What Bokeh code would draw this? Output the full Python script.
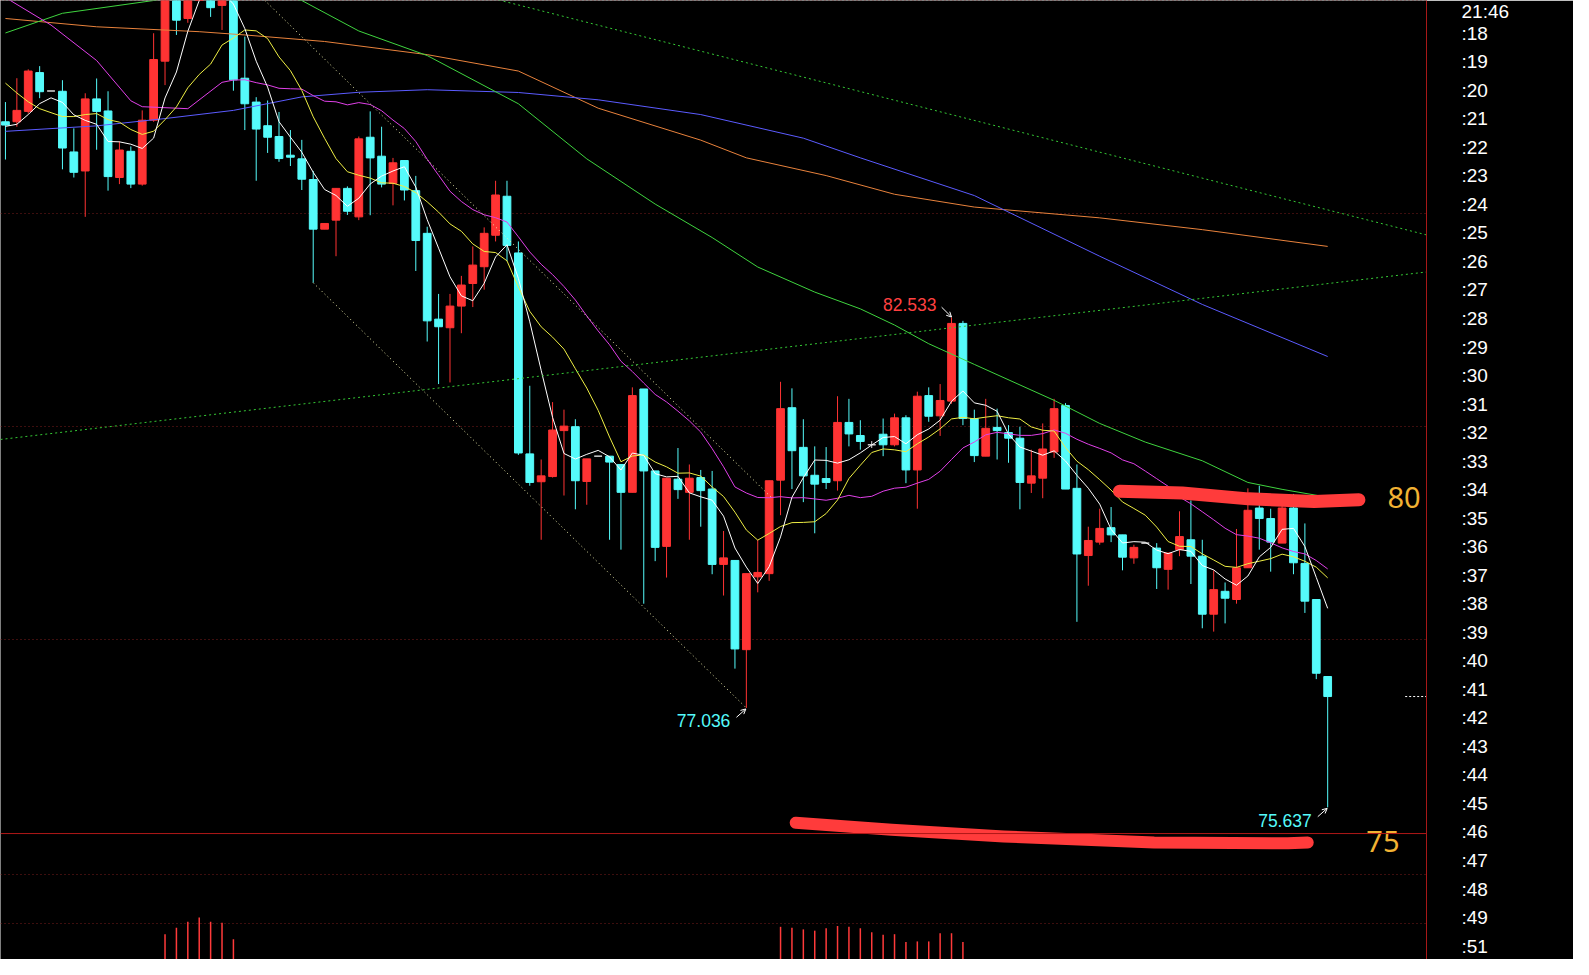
import numpy as np
import pandas as pd
from bokeh.plotting import figure
from bokeh.models import Range1d, LinearAxis, FixedTicker, Span, Grid, Arrow, OpenHead
from bokeh.embed import file_html
from bokeh.resources import INLINE
from bokeh.core.properties import value

# ---------------- data ----------------
opens = [85.289, 85.289, 85.435, 85.981, 85.722, 85.718, 84.864, 84.596, 85.611, 85.441,
         84.504, 84.873, 84.411, 85.311, 86.142, 87.411, 86.743, 87.065, 87.273, 86.927,
         87.204, 85.902, 85.566, 85.233, 85.081, 84.818, 84.767, 84.476, 83.777, 83.904,
         84.351, 83.950, 85.071, 84.804, 84.420, 84.743, 84.319, 83.718, 82.510, 82.389,
         82.694, 83.012, 83.248, 83.691, 84.240, 83.442, 80.613, 80.221, 80.294, 80.941,
         80.996, 80.225, 80.581, 80.581, 80.464, 80.072, 81.527, 80.373, 79.311, 80.257,
         80.072, 80.280, 80.118, 79.057, 79.113, 77.857, 78.882, 78.927, 80.243, 81.263,
         80.705, 80.312, 80.266, 80.235, 81.056, 80.872, 80.741, 80.890, 80.741, 81.121,
         80.387, 81.434, 81.149, 81.356, 82.450, 81.111, 80.581, 80.986, 80.913, 80.834,
         80.201, 80.271, 80.640, 81.295, 80.128, 79.182, 79.371, 79.574, 79.473, 79.149,
         79.357, 79.287, 78.988, 79.265, 79.404, 79.173, 78.356, 78.678, 78.563, 79.010,
         79.851, 79.703, 79.357, 79.851, 79.071, 78.563, 77.479]
highs = [85.566, 85.902, 86.027, 86.072, 85.722, 85.874, 85.196, 85.690, 85.898, 85.718,
         85.012, 84.942, 85.449, 86.535, 87.481, 87.550, 87.411, 87.619, 87.342, 87.273,
         87.273, 86.488, 85.635, 85.588, 85.427, 85.172, 85.034, 84.596, 83.857, 84.351,
         84.379, 85.081, 85.435, 85.219, 84.780, 84.743, 84.527, 83.811, 82.865, 82.865,
         83.119, 83.534, 83.802, 84.458, 84.458, 83.604, 81.572, 80.534, 81.342, 81.236,
         81.101, 80.543, 80.581, 80.581, 80.464, 81.550, 81.527, 80.373, 80.271, 80.696,
         80.464, 80.387, 80.373, 79.528, 79.113, 78.927, 79.404, 80.235, 81.628, 81.536,
         81.101, 80.719, 80.709, 81.425, 81.388, 81.087, 80.793, 81.111, 81.180, 81.157,
         81.489, 81.550, 81.596, 82.533, 82.486, 81.236, 81.388, 81.250, 81.018, 80.996,
         80.672, 81.042, 81.388, 81.328, 80.464, 79.588, 79.841, 79.865, 79.473, 79.334,
         79.357, 79.357, 79.218, 79.805, 79.958, 79.404, 78.974, 78.803, 79.556, 80.128,
         80.165, 79.841, 80.049, 80.049, 79.634, 78.563, 77.479]
lows = [84.757, 85.219, 85.404, 85.621, 85.722, 84.619, 84.504, 83.950, 84.895, 84.319,
        84.411, 84.355, 84.389, 85.289, 85.805, 86.511, 86.682, 87.024, 86.765, 86.581,
        85.726, 85.172, 84.458, 84.850, 84.725, 84.666, 84.328, 83.022, 83.777, 83.396,
        83.977, 83.904, 83.973, 84.365, 84.112, 84.181, 83.188, 82.195, 81.596, 81.619,
        82.312, 82.680, 82.925, 83.604, 83.327, 80.599, 80.165, 79.404, 80.280, 80.027,
        79.833, 79.897, 80.581, 79.404, 79.265, 80.072, 78.504, 79.103, 78.872, 79.980,
        79.404, 79.588, 78.919, 78.619, 77.590, 77.036, 78.664, 78.826, 79.750, 80.118,
        79.934, 79.495, 80.118, 80.096, 80.719, 80.672, 80.696, 80.581, 80.719, 80.201,
        79.841, 81.065, 80.866, 81.319, 81.018, 80.498, 80.581, 80.534, 80.488, 79.833,
        80.063, 79.989, 80.557, 80.118, 78.249, 78.757, 79.334, 79.371, 78.974, 79.066,
        79.357, 78.711, 78.702, 79.173, 78.781, 78.158, 78.111, 78.227, 78.504, 79.010,
        79.265, 78.955, 79.357, 78.919, 78.374, 77.442, 75.637]
closes = [85.242, 85.449, 86.003, 85.712, 85.722, 84.919, 84.577, 85.611, 85.435, 84.517,
          84.891, 84.411, 85.311, 86.165, 87.342, 86.719, 87.273, 87.481, 86.895, 87.204,
          85.879, 85.542, 85.186, 85.071, 84.771, 84.790, 84.480, 83.777, 83.857, 84.351,
          84.029, 85.048, 84.780, 84.411, 84.711, 84.328, 83.617, 82.486, 82.403, 82.694,
          82.990, 83.271, 83.718, 84.258, 83.548, 80.626, 80.211, 80.304, 80.949, 81.004,
          80.235, 80.543, 80.581, 80.498, 80.072, 81.434, 80.373, 79.297, 80.271, 80.110,
          80.271, 80.096, 79.057, 79.149, 77.867, 78.927, 78.944, 80.235, 81.250, 80.658,
          80.304, 80.187, 80.211, 81.056, 80.894, 80.788, 80.741, 80.741, 81.121, 80.387,
          81.425, 81.143, 81.365, 82.450, 81.111, 80.589, 80.973, 80.941, 80.834, 80.211,
          80.304, 80.682, 81.250, 80.118, 79.204, 79.394, 79.564, 79.473, 79.159, 79.297,
          79.357, 79.010, 79.218, 79.449, 79.173, 78.356, 78.702, 78.581, 79.010, 79.819,
          79.703, 79.371, 79.851, 79.080, 78.540, 77.525, 77.197]

# moving-average values read where the window starts before the visible data
ma5_lead = [85.224, 85.253, 85.391, 85.544]
ma10_lead = [85.833, 85.694, 85.570, 85.473, 85.417, 85.362, 85.362, 85.390, 85.404]
ma20_lead_x = [0, 4, 8, 11, 12, 16]
ma20_lead_y = [87.038, 86.650, 86.151, 85.584, 85.501, 85.473]

ma60_x = [0, 5, 13, 20, 26, 31, 37, 45, 51, 57, 62, 66, 71, 75, 78, 81, 85, 92, 96, 100, 105, 109, 112, 116]
ma60_y = [86.539, 86.816, 86.996, 87.204, 86.996, 86.567, 86.221, 85.542, 84.767, 84.130, 83.659, 83.244,
          82.891, 82.655, 82.427, 82.164, 81.873, 81.367, 81.042, 80.779, 80.516, 80.211, 80.114, 80.003]
ma120_x = [0, 8, 14, 20, 26, 31, 37, 45, 52, 61, 70, 75, 85, 96, 105, 116]
ma120_y = [85.154, 85.231, 85.334, 85.449, 85.639, 85.704, 85.740, 85.701, 85.598, 85.390, 85.058,
           84.781, 84.250, 83.396, 82.717, 81.984]
ma250_x = [0, 8, 17, 21, 28, 37, 45, 52, 61, 65, 72, 78, 85, 96, 105, 116]
ma250_y = [86.743, 86.626, 86.557, 86.511, 86.419, 86.234, 86.003, 85.480, 85.030, 84.781, 84.531,
           84.268, 84.088, 83.936, 83.770, 83.534]

# drawn trend lines (index, price)
chan_upper_x = [22.0, 67.3]
chan_upper_y = [87.116, 79.983]
green_down_x = [42.0, 124.67]
green_down_y = [87.055, 83.696]
green_up_x = [-0.43, 124.67]
green_up_y = [80.816, 83.174]

# hand-drawn marker strokes and level notes
stroke_hi_x = [97.74, 103.24, 109.04, 114.82, 118.74]
stroke_hi_y = [80.087, 80.063, 79.980, 79.944, 79.966]
stroke_lo_x = [69.33, 77.76, 87.58, 100.78, 112.51, 114.25]
stroke_lo_y = [75.420, 75.323, 75.227, 75.143, 75.130, 75.143]
level_vals = [80, 75]
level_x = [122.7, 120.85]
level_dy = [0, -11]

# volume pane (only the bars that reach into view)
vol_idx = [14, 15, 16, 17, 18, 19, 20, 68, 69, 70, 71, 72, 73, 74, 75, 76, 77, 78, 79, 80, 81, 82, 83, 84]
vol_val = [23.1, 27.1, 30.8, 33.5, 30.8, 30.2, 20.0, 27.7, 27.1, 26.1, 25.3, 26.8, 28.2, 27.7, 26.8,
           24.3, 22.7, 23.1, 18.2, 18.6, 18.6, 23.7, 23.7, 18.2]

# right-hand tick labels
side_labels = ["21:46"] + [":%d" % m for m in range(18, 50)] + [":51"]

# ---------------- layout ----------------
REF_W, REF_H = 1589, 975
FRAME_REF_W = 1440
W, H = 1573, 959
X_LO, X_HI = -0.434, 124.67
P_LO, P_HI = 73.495, 86.996
ROW_LO, ROW_HI = 32.47, -1.148
VOL_LO, VOL_HI = 7.35, 604.3
PANE_SPLIT = 75.268
PX_IDX = FRAME_REF_W / (X_HI - X_LO)
PX_PRICE = REF_H / (P_HI - P_LO)

UP, DOWN, FLAT = "#ff3333", "#55fbfb", "#d8d8d8"
FONT = "Liberation Sans"

o = np.array(opens); h = np.array(highs); l = np.array(lows); c = np.array(closes)
n = len(c)
idx = np.arange(n)

p = figure(width=W, height=H, output_backend="svg", toolbar_location=None,
           x_range=Range1d(X_LO, X_HI), y_range=Range1d(P_LO, P_HI),
           x_axis_location=None, y_axis_location=None,
           background_fill_color="black", border_fill_color="black",
           min_border_left=0, min_border_top=0, min_border_bottom=0,
           min_border_right=round((REF_W - FRAME_REF_W) * W / REF_W),
           outline_line_color=None)
p.grid.visible = False
p.extra_y_ranges = {"rows": Range1d(ROW_LO, ROW_HI), "vol": Range1d(VOL_LO, VOL_HI)}

p.add_layout(Grid(dimension=1, ticker=FixedTicker(ticks=[78, 81, 84, 87]),
                  grid_line_color="#7a1c1c", grid_line_dash="1 3", grid_line_width=1))
p.add_layout(Grid(dimension=1, ticker=FixedTicker(ticks=[30, 60]), y_range_name="vol",
                  grid_line_color="#7a1c1c", grid_line_dash="1 3", grid_line_width=1))
p.add_layout(Span(location=PANE_SPLIT, dimension="width", line_color="#b01818", line_width=1))

# volume bars
p.segment(x0=vol_idx, y0=[0] * len(vol_idx), x1=vol_idx, y1=vol_val, y_range_name="vol",
          line_color="#ff3a3a", line_width=1.5)

# candles
colors = [UP if cc > oo else (DOWN if cc < oo else FLAT) for oo, cc in zip(o, c)]
p.segment(x0=idx, y0=l, x1=idx, y1=h, line_color=colors, line_width=1)
p.vbar(x=idx, width=0.68, top=np.maximum(o, c), bottom=np.minimum(o, c),
       fill_color=colors, line_color=colors, line_width=1)

# moving averages
s = pd.Series(c)
ma5 = s.rolling(5).mean().to_numpy(); ma5[:4] = ma5_lead
ma10 = s.rolling(10).mean().to_numpy(); ma10[:9] = ma10_lead
ma20 = s.rolling(20).mean().to_numpy()
ma20_x = ma20_lead_x + list(range(19, n))
ma20_y = ma20_lead_y + list(ma20[19:])

p.line(ma250_x, ma250_y, line_color="#e8823c", line_width=1)
p.line(ma120_x, ma120_y, line_color="#5b5bff", line_width=1)
p.line(ma60_x, ma60_y, line_color="#3fd43f", line_width=1)
p.line(ma20_x, ma20_y, line_color="#e040e8", line_width=1)
p.line(idx, ma10, line_color="#eeee44", line_width=1)
p.line(idx, ma5, line_color="#ffffff", line_width=1)

# trend lines
p.line([27, 65], [lows[27], lows[65]], line_color="#f2f2b0", line_dash="1 3", line_width=1)
p.line(chan_upper_x, chan_upper_y, line_color="#f2f2b0", line_dash="1 3", line_width=1)
p.line(green_down_x, green_down_y, line_color="#35c835", line_dash="2 3", line_width=1)
p.line(green_up_x, green_up_y, line_color="#35c835", line_dash="2 3", line_width=1)

# last price marker
p.segment(x0=[122.8], y0=[c[-1]], x1=[X_HI], y1=[c[-1]], line_color="#ffffff",
          line_dash="2 2", line_width=1)

# extreme labels with arrows
hi_i = 83
p.text(x=[hi_i], y=[h[hi_i]], text=["%.3f" % h[hi_i]], x_offset=-15, y_offset=-13,
       text_align="right", text_baseline="middle", text_color="#ff4040",
       text_font=value(FONT), text_font_size="17.5px")
p.add_layout(Arrow(end=OpenHead(size=5, line_color="white", line_width=1),
                   x_start=hi_i - 10 / PX_IDX, y_start=h[hi_i] + 10.5 / PX_PRICE,
                   x_end=hi_i, y_end=h[hi_i] + 0.5 / PX_PRICE,
                   line_color="white", line_width=1))
for lo_i in (65, 116):
    p.text(x=[lo_i], y=[l[lo_i]], text=["%.3f" % l[lo_i]], x_offset=-16, y_offset=13,
           text_align="right", text_baseline="middle", text_color="#55fbfb",
           text_font=value(FONT), text_font_size="17.5px")
    p.add_layout(Arrow(end=OpenHead(size=5, line_color="white", line_width=1),
                       x_start=lo_i - 10 / PX_IDX, y_start=l[lo_i] - 9.5 / PX_PRICE,
                       x_end=lo_i - 0.5 / PX_IDX, y_end=l[lo_i] - 1 / PX_PRICE,
                       line_color="white", line_width=1))

# hand-drawn strokes and level notes
p.line(stroke_hi_x, stroke_hi_y, line_color="#ff3b3b", line_width=13, line_cap="round", line_join="round")
p.line(stroke_lo_x, stroke_lo_y, line_color="#ff3b3b", line_width=12, line_cap="round", line_join="round")
p.text(x=level_x, y=level_vals, text=[str(v) for v in level_vals], y_offset=level_dy,
       text_align="center", text_baseline="middle", text_color="#f2b233",
       text_font=value("Noto Sans"), text_font_size="29px")

# right axis with the side list
row_pos = list(range(-1, len(side_labels) - 1))
ax = LinearAxis(y_range_name="rows", ticker=FixedTicker(ticks=row_pos),
                major_label_overrides={k: t for k, t in zip(row_pos, side_labels)})
ax.axis_line_color = "#a81818"
ax.axis_line_width = 1
ax.major_tick_line_color = None
ax.minor_tick_line_color = None
ax.major_tick_out = 0
ax.major_tick_in = 0
ax.minor_tick_out = 0
ax.major_label_text_color = "#ffffff"
ax.major_label_text_font = FONT
ax.major_label_text_font_size = "19px"
ax.major_label_standoff = 35
p.add_layout(ax, "right")

open("out.html", "w").write(file_html(p, INLINE))
